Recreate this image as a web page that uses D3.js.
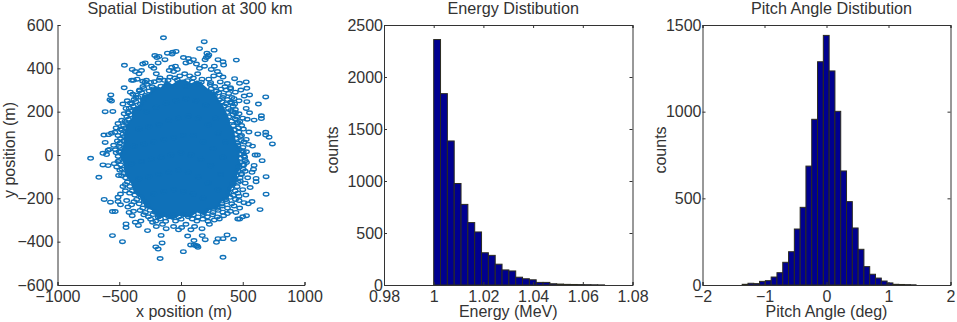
<!DOCTYPE html>
<html>
<head>
<meta charset="utf-8">
<script src="https://cdn.jsdelivr.net/npm/d3@7"></script>
<style>
body { margin: 0; background: #fff; }
svg { display: block; }
text { font-family: "Liberation Sans", sans-serif; fill: #333; }
</style>
</head>
<body>
<div id="chart"></div>
<script>
// x,y positions in metres
const scatterOuter = [[-142,541],[188,523],[150,491],[268,484],[448,438],[-458,414],[-732,-15],[-665,-103],[740,51],[686,268],
[-568,277],[-563,249],[-575,255],[-614,200],[-552,201],[-624,92],[-587,94],[-563,100],[-614,58],[-579,26],[-590,22],[-632,8],[-603,2],[-632,-46],[-590,-49],
[-622,-205],[-555,-261],[-533,-261],[-571,-218],[-555,-372],[-474,-400],[-445,-318],[-445,-335],[-271,-349],[-161,-371],[-153,-406],[-204,-424],[-185,-434],
[-169,-478],[19,-446],[340,-472],[54,-374],[172,-372],[196,-391],[105,-395],[78,-415],[105,-415],[131,-420],[137,-426],[120,-418],[287,-403],[300,-386],[340,-386],[373,-369],[426,-389],
[640,-252],[689,-181],[689,-100],[608,-108],[608,-123],[600,0],[619,0],[657,-26],[592,-48],[587,-66],[575,-80],[622,97],[686,105],[686,92],[713,82],[627,235],[651,181],[651,168],[592,161],
[528,337],[533,308],[555,277],[512,272],[434,352],[474,331],[485,300],[533,246],[528,215],[555,195],[536,165],[550,106],[528,72],[547,49],[579,41],
[-212,459],[-195,450],[-178,455],[-110,470],[-68,474],[-40,478],[-72,466],[20,450],[60,445],[100,440],[-130,440],[210,470],[225,462],[205,450],[195,440],[218,455],[300,440],[340,430],[270,410],[345,415],
[-310,420],[-290,425],[-240,410],[-220,400],[-185,425],[-395,395],[-370,385],[-340,375],[-320,390],[-95,390],[-60,385],[-30,395],[-45,410],[-75,405],[40,425],[70,430],[125,420],[150,400],[190,410],[245,395],[295,385],[310,370],
[-400,345],[-385,345],[-355,350],[-310,340],[-280,345],[-245,335],[-200,375],[-170,355],[-135,345],[-90,360],[-50,355],[-10,365],[30,375],[70,365],[100,355],[135,375],[170,350],[225,350],[265,365],[340,360],[375,330],[400,310],[440,290],[430,260],[470,250],
[-460,310],[-410,290],[-390,280],[-365,265],[-335,300],[-435,250],[-410,240],[-470,235],[-445,215],[365,300],[410,240],[440,210],[470,190],[500,170],[460,150],[420,200],
[-460,190],[-480,160],[-510,145],[-525,125],[-535,105],[-510,90],[-490,120],[-515,65],[-545,45],[-500,40],[-525,10],[-510,-30],[-540,-40],[-520,-55],[-495,-70],[-505,-95],[-500,15],
[505,120],[490,90],[510,60],[495,20],[530,15],[515,-10],[530,-35],[500,-45],[520,-75],[490,-90],[540,-105],[520,-130],[480,-120],[500,-160],[525,-185],[470,-190],
[-470,-145],[-490,-180],[-510,-195],[-450,-165],[-440,-210],[-490,-230],[-510,-215],[-430,-240],[-400,-230],[-385,-260],[-420,-265],[-395,-280],
[-370,-310],[-345,-325],[-325,-305],[-230,-310],[-200,-330],[-150,-320],[-120,-340],[-60,-330],[-20,-345],[5,-335],[40,-320],[80,-345],[110,-330],[170,-340],[230,-320],[270,-300],[310,-295],[345,-280],[375,-270],[400,-260],
[460,-295],[475,-295],[530,-280],[500,-285],[575,-215],[545,-225],[510,-220],[470,-210],[430,-235],[560,-150],[475,-245],[445,-265]];

// the crowded band of rings just outside the solid middle
const scatterBand = [[-292,336],[-216,338],[-178,345],[-105,344],[-30,346],[52,343],[92,336],[164,336],[240,334],[318,337],
[-308,316],[-276,326],[-233,314],[-163,317],[-60,317],[41,316],[150,327],[237,325],[273,316],[356,315],
[-338,296],[-301,307],[-258,295],[-226,305],[246,306],[287,295],[323,304],[402,306],
[-362,276],[-318,287],[-286,275],[271,276],[306,287],[344,275],[386,284],
[-379,256],[-347,266],[-304,255],[311,255],[338,266],[377,256],[412,265],
[-398,236],[-366,246],[-329,235],[332,245],[364,236],[401,244],[434,235],
[-418,216],[-386,225],[-349,215],[351,226],[384,215],[422,225],
[-428,195],[-396,205],[371,196],[404,206],[441,195],
[-439,176],[-411,185],[389,176],[421,186],[451,175],
[-454,155],[-426,165],[411,156],[439,166],[476,155],
[-464,136],[-441,145],[424,135],[456,146],[491,136],
[-479,115],[-451,125],[436,116],[466,125],
[-471,96],[-446,105],[441,95],[469,106],
[-489,75],[-461,85],[444,76],[481,85],
[-494,56],[-466,65],[456,55],[489,66],
[-491,35],[461,46],[501,35],
[-531,24],[-499,15],[471,25],[504,15],
[-509,-6],[481,5],[511,-5],
[-501,-25],[484,-15],[521,-26],
[-489,-45],[481,-35],[509,-46],
[-479,-65],[471,-55],[504,-66],
[-459,-85],[461,-75],[489,-86],
[-481,-96],[-449,-105],[446,-95],[479,-106],
[-434,-125],[431,-115],[464,-126],
[-451,-136],[-414,-145],[421,-135],[454,-146],
[-394,-165],[406,-155],[439,-166],
[-416,-176],[-374,-185],[386,-175],[424,-186],[461,-176],
[-359,-205],[-324,-195],[361,-206],[399,-195],[441,-205],
[-381,-216],[-339,-225],[-299,-215],[331,-226],[369,-215],[411,-225],
[-309,-245],[-271,-235],[296,-246],[334,-235],[376,-245],
[-331,-256],[-289,-265],[-251,-255],[-209,-264],[221,-256],[259,-265],[301,-255],[339,-264],
[-301,-276],[-264,-285],[-226,-275],[-184,-286],[-146,-276],[-99,-285],[-61,-276],[-19,-286],[21,-275],[59,-285],[101,-276],[139,-286],[181,-275],[214,-285],[256,-276],[294,-286],
[-246,-296],[-204,-305],[-166,-295],[-124,-306],[-44,-305],[1,-296],[91,-295],[129,-305],[176,-296],[219,-306]];

// points packed in and around the solid middle of the cloud
const scatterInner = [[-280,200],[-200,220],[-120,240],[-40,250],[40,260],[120,250],[200,230],[280,170],[-340,120],[-260,130],[-180,140],[-100,160],[-20,170],[60,180],[140,170],[220,140],[300,100],[360,60],[-380,40],[-300,50],[-220,60],[-140,70],[-60,80],[20,90],[100,90],[180,60],[260,30],[340,-10],
[-400,-40],[-320,-30],[-240,-20],[-160,-10],[-80,0],[0,10],[80,0],[160,-20],[240,-50],[320,-90],[-340,-110],[-260,-100],[-180,-90],[-100,-80],[-20,-70],[60,-80],[140,-100],[220,-130],[300,-160],[-220,-180],[-140,-170],[-60,-160],[20,-170],[100,-180],[180,-200]];

// edge of the saturated middle, where single rings can no longer be told apart
const scatterCore = [[-120,345],[-70,325],[-30,345],[30,350],[80,330],[130,345],[190,320],[230,300],[275,290],[310,250],[345,225],[385,175],[400,140],[430,115],[445,60],[480,30],[470,-20],[490,-50],[455,-90],[450,-130],[410,-155],[385,-200],[330,-215],[295,-250],[230,-255],[190,-280],[130,-265],[70,-290],[-10,-280],[-70,-300],[-130,-285],[-190,-295],[-235,-255],[-290,-240],[-335,-195],[-380,-175],[-405,-130],[-455,-90],[-465,-40],[-500,0],[-470,40],[-460,90],[-445,140],[-400,170],[-395,215],[-340,230],[-315,275],[-260,285],[-210,320],[-165,310]];

const energyStart = 1, energyBinWidth = 0.00275;
const energyCounts = [2360,1840,1385,976,775,600,510,310,285,200,145,135,75,60,50,25,25,12,9,6,5,4,3,2,1];

const pitchStart = -1.36, pitchBinWidth = 0.0935;
const pitchCounts = [4,10,8,21,25,46,71,131,192,323,448,686,956,1288,1440,1235,1002,658,481,329,206,106,62,40,23,12,4,3,2,1];

const xTicksSpatial = [-1000,-500,0,500,1000];
const yTicksSpatial = [-600,-400,-200,0,200,400,600];
const energyXTicks = [0.98,1,1.02,1.04,1.06,1.08];
const energyYTicks = [0,500,1000,1500,2000,2500];
const pitchXTicks = [-2,-1,0,1,2];
const pitchYTicks = [0,500,1000,1500];

const plotTop = 25, plotBottom = 285;
const svg = d3.select("#chart").append("svg").attr("width", 957).attr("height", 322);

function labels(g, width, title, titleShift, xLabel, xLabelShift, yLabel, yLabelX) {
    const height = plotBottom - plotTop;
    g.append("text").attr("x", width / 2 + titleShift).attr("y", -11.5).attr("text-anchor", "middle")
	.style("font-size", "16.2px").text(title);
    g.append("text").attr("x", width / 2 + xLabelShift).attr("y", height + 31.7).attr("text-anchor", "middle")
	.style("font-size", "16px").text(xLabel);
    g.append("text").attr("transform", "translate(" + yLabelX + "," + (height / 2 - 5) + ")rotate(-90)")
	.attr("text-anchor", "middle").style("font-size", "16px").text(yLabel);
}

function styleAxis(sel) {
    sel.selectAll("path").attr("stroke", "#333").attr("stroke-width", 1);
    sel.selectAll("line").attr("stroke", "#333").attr("stroke-width", 1);
    sel.selectAll("text").style("font-size", "16px").style("fill", "#333").style("font-family", "Liberation Sans");
}

function drawAxes(g, x, y, xTicks, yTicks, xFormat, box, yPadding) {
    const height = plotBottom - plotTop, width = x.range()[1];
    g.append("g").attr("transform", "translate(0," + height + ")")
	.call(d3.axisBottom(x).tickValues(xTicks).tickFormat(xFormat).tickSize(-3).tickPadding(5.3))
	.call(styleAxis);
    g.append("g")
	.call(d3.axisLeft(y).tickValues(yTicks).tickFormat(d3.format("d")).tickSize(-3).tickPadding(yPadding))
	.call(styleAxis);
    if (box) {
	g.append("g")
	    .call(d3.axisTop(x).tickValues(xTicks).tickFormat(() => "").tickSize(-3))
	    .call(styleAxis);
	g.append("g").attr("transform", "translate(" + width + ",0)")
	    .call(d3.axisRight(y).tickValues(yTicks).tickFormat(() => "").tickSize(-3))
	    .call(styleAxis);
    }
}

// Scatter panel
function createScatter(left, right) {
    const width = right - left, height = plotBottom - plotTop;
    const g = svg.append("g").attr("transform", "translate(" + left + "," + plotTop + ")");
    const x = d3.scaleLinear().domain([-1000, 1000]).range([0, width]);
    const y = d3.scaleLinear().domain([-600, 600]).range([height, 0]);

    g.append("path").datum(scatterCore)
	.attr("d", d3.line().x(d => x(d[0])).y(d => y(d[1])).curve(d3.curveLinearClosed))
	.attr("fill", "#0f71b9");
    g.selectAll("ellipse").data(scatterOuter.concat(scatterBand, scatterInner)).enter().append("ellipse")
	.attr("cx", d => x(d[0])).attr("cy", d => y(d[1]))
	.attr("rx", 2.8).attr("ry", 1.8)
	.attr("fill", "none").attr("stroke", "#0f71b9").attr("stroke-width", 1.35);

    drawAxes(g, x, y, xTicksSpatial, yTicksSpatial, d3.format("d"), false, 4);
    labels(g, width, "Spatial Distibution at 300 km", 9, "x position (m)", 3, "y position (m)", -43);
}

// Repeatable histogram panel
function createHist(left, right, title, xLabel, domainX, domainY, start, binWidth, counts, xTicks, yTicks, xFormat, yLabelX) {
    const width = right - left, height = plotBottom - plotTop;
    const g = svg.append("g").attr("transform", "translate(" + left + "," + plotTop + ")");
    const x = d3.scaleLinear().domain(domainX).range([0, width]);
    const y = d3.scaleLinear().domain(domainY).range([height, 0]);

    g.selectAll("rect").data(counts).enter().append("rect")
	.attr("x", (d, i) => x(start + i * binWidth))
	.attr("y", d => y(d))
	.attr("width", (d, i) => x(start + (i + 1) * binWidth) - x(start + i * binWidth))
	.attr("height", d => height - y(d))
	.attr("fill", "#00008f").attr("stroke", "#2b2b20").attr("stroke-width", 1);

    drawAxes(g, x, y, xTicks, yTicks, xFormat, true, 1);
    labels(g, width, title, 5, xLabel, 0, "counts", yLabelX);
}

createScatter(57.5, 304.5);
createHist(384, 632.5, "Energy Distibution", "Energy (MeV)", [0.98, 1.08], [0, 2500],
    energyStart, energyBinWidth, energyCounts, energyXTicks, energyYTicks, d => String(d), -46);
createHist(702.5, 950.5, "Pitch Angle Distibution", "Pitch Angle (deg)", [-2, 2], [0, 1500],
    pitchStart, pitchBinWidth, pitchCounts, pitchXTicks, pitchYTicks, d3.format("d"), -37);
</script>
</body>
</html>
